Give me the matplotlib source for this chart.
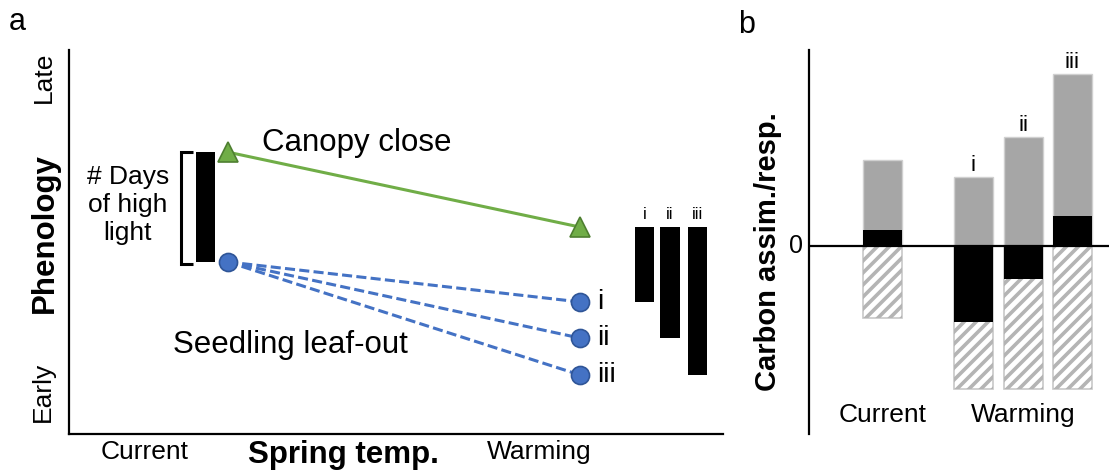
import matplotlib
matplotlib.use("Agg")
import numpy as np
import matplotlib.pyplot as plt
from matplotlib.transforms import blended_transform_factory

plt.rcParams['font.family'] = ['Liberation Sans', 'DejaVu Sans']

# ---- Panel a: phenology under current vs warming spring temperatures ----
scenarios = ["i", "ii", "iii"]
canopy_current = 7.34
canopy_warming = 5.39
seedling_current = 4.48
seedling_warming = [3.44, 2.50, 1.54]
temp_labels = ["Current", "Warming"]

# ---- Panel b: carbon assimilation / respiration ----
carbon_groups = ["Current", "i", "ii", "iii"]
assimilation = [8.6, 6.9, 10.9, 17.2]
respiration = [7.2, 14.3, 14.3, 14.3]
net_carbon = [1.6, -7.6, -3.3, 3.0]

GREEN = "#70AD47"
GREEN_EDGE = "#4E7F30"
BLUE = "#4472C4"
BLUE_EDGE = "#2F5597"
GRAY = "#A6A6A6"
STRIPE_GRAY = "#B4B4B4"
OUTLINE_GRAY = "#C8C8C8"

W, H = 1109, 473
fig = plt.figure(figsize=(W / 100, H / 100), dpi=100)


def fx(px):
    return px / W


def fy(py):
    return 1 - py / H


def stripe_patch(axis, patch, spacing=12.0, **kw):
    """Fill a bar with 45-degree diagonal stripes, clipped to the bar."""
    (X0, Y0), (X1, Y1) = axis.transData.transform(
        [(patch.get_x(), patch.get_y()),
         (patch.get_x() + patch.get_width(), patch.get_y() + patch.get_height())])
    X0, X1 = sorted((X0, X1))
    Y0, Y1 = sorted((Y0, Y1))
    inv = axis.transData.inverted()
    for k in np.arange(Y0 - X1, Y1 - X0 + spacing, spacing):
        seg = inv.transform([(X0 - 5, X0 - 5 + k), (X1 + 5, X1 + 5 + k)])
        ln, = axis.plot(seg[:, 0], seg[:, 1], solid_capstyle="butt", **kw)
        ln.set_clip_path(patch)


# ---------------- panel a ----------------
ax = fig.add_axes([fx(69), fy(434), fx(723) - fx(69), fy(50) - fy(434)])
ax.set_xlim(0, 10)
ax.set_ylim(0, 10)
for s in ("top", "right"):
    ax.spines[s].set_visible(False)
for s in ("left", "bottom"):
    ax.spines[s].set_linewidth(1.6)
ax.set_xticks([])
ax.set_yticks([])

x_cur, x_warm = 2.43, 7.81

# canopy close line
ax.plot([x_cur, x_warm], [canopy_current, canopy_warming], color=GREEN, lw=2.2,
        zorder=2, solid_capstyle="butt")
ax.plot([x_cur, x_warm], [canopy_current, canopy_warming], linestyle="none",
        marker="^", ms=15, mfc=GREEN, mec=GREEN_EDGE, mew=1.2, zorder=4)

# seedling leaf-out lines
for yw in seedling_warming:
    ax.plot([x_cur, x_warm], [seedling_current, yw], color=BLUE, lw=2.2,
            dashes=(3.3, 1.4), dash_capstyle="butt", zorder=2)
ax.plot([x_cur], [seedling_current], linestyle="none", marker="o", ms=13,
        mfc=BLUE, mec=BLUE_EDGE, mew=1.2, zorder=4)
ax.plot([x_warm] * 3, seedling_warming, linestyle="none", marker="o", ms=13,
        mfc=BLUE, mec=BLUE_EDGE, mew=1.2, zorder=4)
for lab, yw in zip(scenarios, seedling_warming):
    ax.text(8.07, yw, lab, ha="left", va="center", fontsize=20)

# days of high light under current conditions
ax.bar([2.085], [canopy_current - seedling_current], bottom=[seedling_current],
       width=0.29, color="black", zorder=3)
bx0, bx1 = 1.72, 1.89
ax.plot([bx1, bx0, bx0, bx1],
        [canopy_current, canopy_current, seedling_current - 0.06, seedling_current - 0.06],
        color="black", lw=2.2, solid_joinstyle="miter", solid_capstyle="butt")
ax.text(0.90, 5.96, "# Days\nof high\nlight", ha="center", va="center",
        fontsize=19, linespacing=1.2)

# days of high light under warming scenarios
bar_x = [8.80, 9.19, 9.61]
for bxp, lab, yw in zip(bar_x, scenarios, seedling_warming):
    ax.bar([bxp], [canopy_warming - yw], bottom=[yw], width=0.30,
           color="black", zorder=3)
    ax.text(bxp, canopy_warming + 0.12, lab, ha="center", va="bottom", fontsize=12)

ax.text(4.40, 7.58, "Canopy close", ha="center", va="center", fontsize=22.5)
ax.text(3.39, 2.32, "Seedling leaf-out", ha="center", va="center", fontsize=22.5)

# axis annotations
tr = blended_transform_factory(ax.transData, fig.transFigure)
ax.text(1.16, fy(452), temp_labels[0], transform=tr, ha="center", va="center", fontsize=19)
ax.text(7.19, fy(452), temp_labels[1], transform=tr, ha="center", va="center", fontsize=19)
fig.text(fx(343), fy(455), "Spring temp.", ha="center", va="center",
         fontsize=22.5, fontweight="bold")
fig.text(fx(44), fy(77), "Late", rotation=90, ha="center", va="center", fontsize=19)
fig.text(fx(43), fy(392), "Early", rotation=90, ha="center", va="center", fontsize=19)
fig.text(fx(45), fy(233), "Phenology", rotation=90, ha="center", va="center",
         fontsize=22.5, fontweight="bold")
fig.text(fx(17), fy(22), "a", ha="center", va="center", fontsize=22)

# ---------------- panel b ----------------
bxax = fig.add_axes([fx(809), fy(434), fx(1109) - fx(809), fy(50) - fy(434)])
pos = [0.0, 1.84, 2.85, 3.84]
bw = 0.79
bxax.set_xlim(-1.48, 4.58)
bxax.set_ylim(-18.8, 19.6)
for s in ("top", "right", "bottom"):
    bxax.spines[s].set_visible(False)
bxax.spines["left"].set_linewidth(1.6)
bxax.set_xticks([])
bxax.set_yticks([])

bxax.bar(pos, assimilation, width=bw, color=GRAY, edgecolor="#D0D0D0",
         linewidth=1.0, zorder=2)
resp_bars = bxax.bar(pos, [-r for r in respiration], width=bw, color="white",
                     edgecolor=OUTLINE_GRAY, linewidth=1.2, zorder=2)
for patch in resp_bars:
    stripe_patch(bxax, patch, spacing=12.0, color=STRIPE_GRAY, lw=2.6, zorder=2.1)
bxax.bar(pos, net_carbon, width=bw, color="black", linewidth=0, zorder=3)
bxax.axhline(0, color="black", lw=1.6, zorder=4)

for p, lab, a in zip(pos[1:], scenarios, assimilation[1:]):
    bxax.text(p, a + 0.1, lab, ha="center", va="bottom", fontsize=16)

bxax.text(pos[0], -16.9, carbon_groups[0], ha="center", va="center", fontsize=19)
bxax.text(sum(pos[1:]) / 3, -16.9, "Warming", ha="center", va="center", fontsize=19)
fig.text(fx(796), fy(246), "0", ha="center", va="center", fontsize=18)
fig.text(fx(768), fy(252), "Carbon assim./resp.", rotation=90, ha="center",
         va="center", fontsize=21, fontweight="bold")
fig.text(fx(747), fy(25), "b", ha="center", va="center", fontsize=22)

fig.savefig("out.png", dpi=100)
